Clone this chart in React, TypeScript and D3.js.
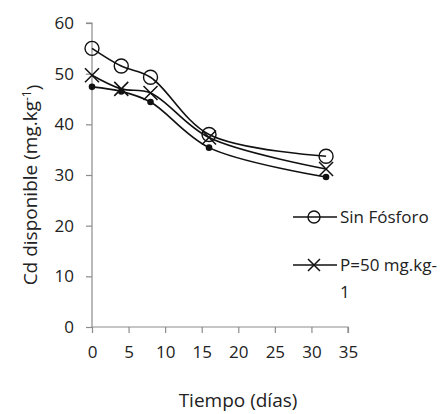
import React, { useRef, useEffect } from 'react';
import * as d3 from 'd3';

const days = [0, 4, 8, 16, 32];
const sinFosforo = [55, 51.5, 49.3, 38, 33.7];
const p50 = [49.7, 47, 46.2, 37.4, 31.2];
const p100 = [47.4, 46.5, 44.4, 35.4, 29.6];
const xTicks = [0, 5, 10, 15, 20, 25, 30, 35];
const yTicks = [0, 10, 20, 30, 40, 50, 60];

const FONT = "'Open Sans', sans-serif";

const App: React.FC = () => {
  const ref = useRef<SVGSVGElement | null>(null);

  useEffect(() => {
    if (!ref.current) return;
    const svg = d3.select(ref.current);
    svg.selectAll('*').remove();

    const width = 448;
    const height = 414;
    const margin = { top: 23, right: 100, bottom: 87, left: 92 };

    const x = d3.scaleLinear().domain([0, 35]).range([margin.left, width - margin.right]);
    const y = d3.scaleLinear().domain([0, 60]).range([height - margin.bottom, margin.top]);

    const axisColor = '#8c8c8c';

    // y axis
    const gy = svg.append('g').attr('transform', `translate(${margin.left},0)`)
      .call(d3.axisLeft(y).tickValues(yTicks).tickSize(6).tickPadding(12));
    // x axis
    const gx = svg.append('g').attr('transform', `translate(0,${y(0)})`)
      .call(d3.axisBottom(x).tickValues(xTicks).tickSize(6).tickPadding(13));

    [gx, gy].forEach(g => {
      g.select('.domain').attr('stroke', axisColor).attr('stroke-width', 1.2);
      g.selectAll('.tick line').attr('stroke', axisColor).attr('stroke-width', 1.2);
      g.selectAll('.tick text')
        .attr('fill', '#222')
        .style('font-family', FONT)
        .style('font-size', '17px');
    });
    gy.select('.domain').attr('d', `M-6,${y(60)}H0V${y(0)}`);
    gx.select('.domain').attr('d', `M${x(0)},0H${x(35)}V6`);

    const line = d3.line<[number, number]>()
      .x(d => x(d[0]))
      .y(d => y(d[1]))
      .curve(d3.curveCatmullRom.alpha(0.5));

    const series = [sinFosforo, p50, p100];
    series.forEach(vals => {
      svg.append('path')
        .datum(days.map((d, i) => [d, vals[i]] as [number, number]))
        .attr('fill', 'none')
        .attr('stroke', '#111')
        .attr('stroke-width', 1.6)
        .attr('d', line);
    });

    // circle markers
    svg.append('g').selectAll('circle')
      .data(days.map((d, i) => [d, sinFosforo[i]]))
      .join('circle')
      .attr('cx', d => x(d[0]))
      .attr('cy', d => y(d[1]))
      .attr('r', 7)
      .attr('fill', 'none')
      .attr('stroke', '#111')
      .attr('stroke-width', 1.4);

    // cross markers
    const cross = (cx: number, cy: number, s: number) =>
      `M${cx - s},${cy - s}L${cx + s},${cy + s}M${cx - s},${cy + s}L${cx + s},${cy - s}`;
    svg.append('g').selectAll('path')
      .data(days.map((d, i) => [d, p50[i]]))
      .join('path')
      .attr('d', d => cross(x(d[0]), y(d[1]), 7))
      .attr('stroke', '#111')
      .attr('stroke-width', 1.5)
      .attr('fill', 'none');

    // dot markers
    svg.append('g').selectAll('circle')
      .data(days.map((d, i) => [d, p100[i]]))
      .join('circle')
      .attr('cx', d => x(d[0]))
      .attr('cy', d => y(d[1]))
      .attr('r', 3.3)
      .attr('fill', '#111');

    // legend
    const lg = svg.append('g').style('font-family', FONT).style('font-size', '17px');
    const ly1 = 217;
    const ly2 = 265;
    lg.append('line').attr('x1', 293).attr('x2', 337).attr('y1', ly1).attr('y2', ly1)
      .attr('stroke', '#111').attr('stroke-width', 1.4);
    lg.append('circle').attr('cx', 314).attr('cy', ly1).attr('r', 6)
      .attr('fill', 'none').attr('stroke', '#111').attr('stroke-width', 1.4);
    lg.append('text').attr('x', 340).attr('y', ly1).attr('dy', '0.35em').attr('fill', '#222').text('Sin Fósforo');

    lg.append('line').attr('x1', 293).attr('x2', 337).attr('y1', ly2).attr('y2', ly2)
      .attr('stroke', '#111').attr('stroke-width', 1.4);
    lg.append('path').attr('d', cross(314, ly2, 6)).attr('stroke', '#111').attr('stroke-width', 1.5);
    lg.append('text').attr('x', 340).attr('y', ly2).attr('dy', '0.35em').attr('fill', '#222').text('P=50 mg.kg-');
    lg.append('text').attr('x', 340).attr('y', ly2 + 27).attr('dy', '0.35em').attr('fill', '#222').text('1');

    // axis titles
    svg.append('text')
      .attr('x', 238).attr('y', 400).attr('dy', '0.35em')
      .attr('text-anchor', 'middle')
      .attr('fill', '#222')
      .style('font-family', FONT).style('font-size', '19px')
      .text('Tiempo (días)');

    const yt = svg.append('text')
      .attr('transform', `translate(30,${185}) rotate(-90)`)
      .attr('text-anchor', 'middle')
      .attr('dy', '0.35em')
      .attr('fill', '#222')
      .style('font-family', FONT).style('font-size', '19px');
    yt.append('tspan').text('Cd disponible (mg.kg');
    yt.append('tspan').attr('dy', '-0.45em').style('font-size', '12px').text('-1');
    yt.append('tspan').attr('dy', '0.45em').text(')');
  }, []);

  return (
    <svg ref={ref} width={448} height={414}
      style={{ position: 'absolute', left: 0, top: 0, background: '#fff' }} />
  );
};

export default App;
